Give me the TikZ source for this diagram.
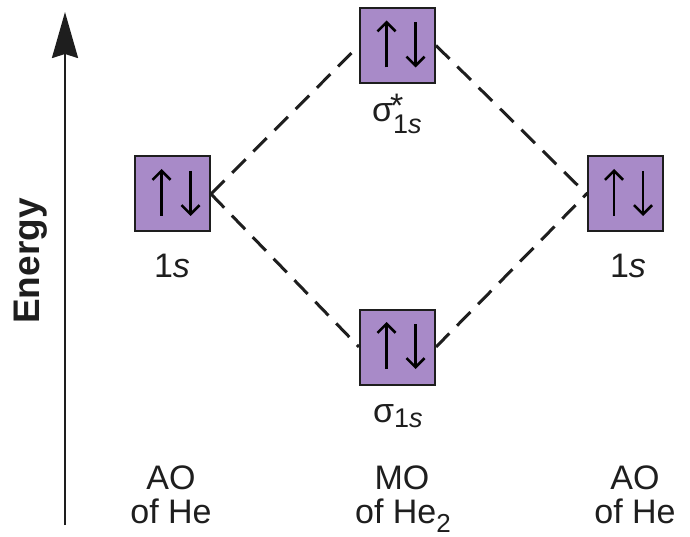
\documentclass[tikz,border=0pt]{standalone}
\usepackage{fontspec}
\setmainfont{Liberation Sans}
\usetikzlibrary{arrows.meta}
\definecolor{orbfill}{RGB}{168,138,200}
\definecolor{ink}{RGB}{30,30,30}
\begin{document}
\begin{tikzpicture}[x=1pt,y=-1pt,
  orbital/.style={draw=ink, line width=2pt, fill=orbfill, minimum size=75pt, inner sep=0pt},
  link/.style={line width=3pt, ink, dash pattern=on 19pt off 11pt},
  spin/.style={line width=2.6pt, black, -{Straight Barb[length=9pt,width=18pt]}},
  lbl/.style={font=\fontsize{34}{34}\selectfont, anchor=base, inner sep=0pt, text=ink}]
\useasboundingbox (0,0) rectangle (690,537);

% energy axis
\coordinate (axisbot) at (65,525);
\coordinate (axistop) at (65,12);
\draw[ink, line width=2.2pt, -{Stealth[length=46pt,width=26pt,inset=4pt]}] (axisbot) -- (axistop);
\node[rotate=90, text=ink, inner sep=0pt, font=\bfseries\fontsize{37}{37}\selectfont] (energy) at (31,261) {Energy};

% orbital boxes
\node[orbital] (ao1) at (172.5,194) {};
\node[orbital] (sigstar) at (397.5,45.5) {};
\node[orbital] (sig) at (397.5,347) {};
\node[orbital] (ao2) at (625,194) {};

% electron pairs
\foreach \n in {ao1,sigstar,sig,ao2} {
  \draw[spin] ([shift={(-11,22)}]\n.center) -- ([shift={(-11,-25)}]\n.center);
  \draw[spin] ([shift={(18,-23)}]\n.center) -- ([shift={(18,22)}]\n.center);
}

% correlation lines
\draw[link] (ao1.east) -- (sigstar.west);
\draw[link] (ao1.east) -- (sig.west);
\draw[link] (sigstar.east) -- (ao2.west);
\draw[link] (sig.east) -- (ao2.west);

% orbital labels
\node[lbl] (l1) at (172,277) {1\textit{s}};
\node[lbl] (l2) at (628,277) {1\textit{s}};
\node[lbl, anchor=base west] (lss) at (372,122) {σ\makebox[0pt][l]{\hspace{-3pt}\raisebox{4pt}{\fontsize{34}{34}\selectfont *}}\raisebox{-12pt}{\fontsize{27}{27}\selectfont 1\textit{s}}};
\node[lbl, anchor=base west] (ls) at (373,422) {σ\raisebox{-5pt}{\fontsize{27}{27}\selectfont 1\textit{s}}};

% column captions
\node[lbl] (ao1a) at (171,489) {AO};
\node[lbl] (ao1b) at (171,523) {of He};
\node[lbl] (moa) at (402,489) {MO};
\node[lbl] (mob) at (403,523) {of He\raisebox{-9pt}{\fontsize{26}{26}\selectfont 2}};
\node[lbl] (ao2a) at (635,489) {AO};
\node[lbl] (ao2b) at (635,523) {of He};
\end{tikzpicture}
\end{document}
